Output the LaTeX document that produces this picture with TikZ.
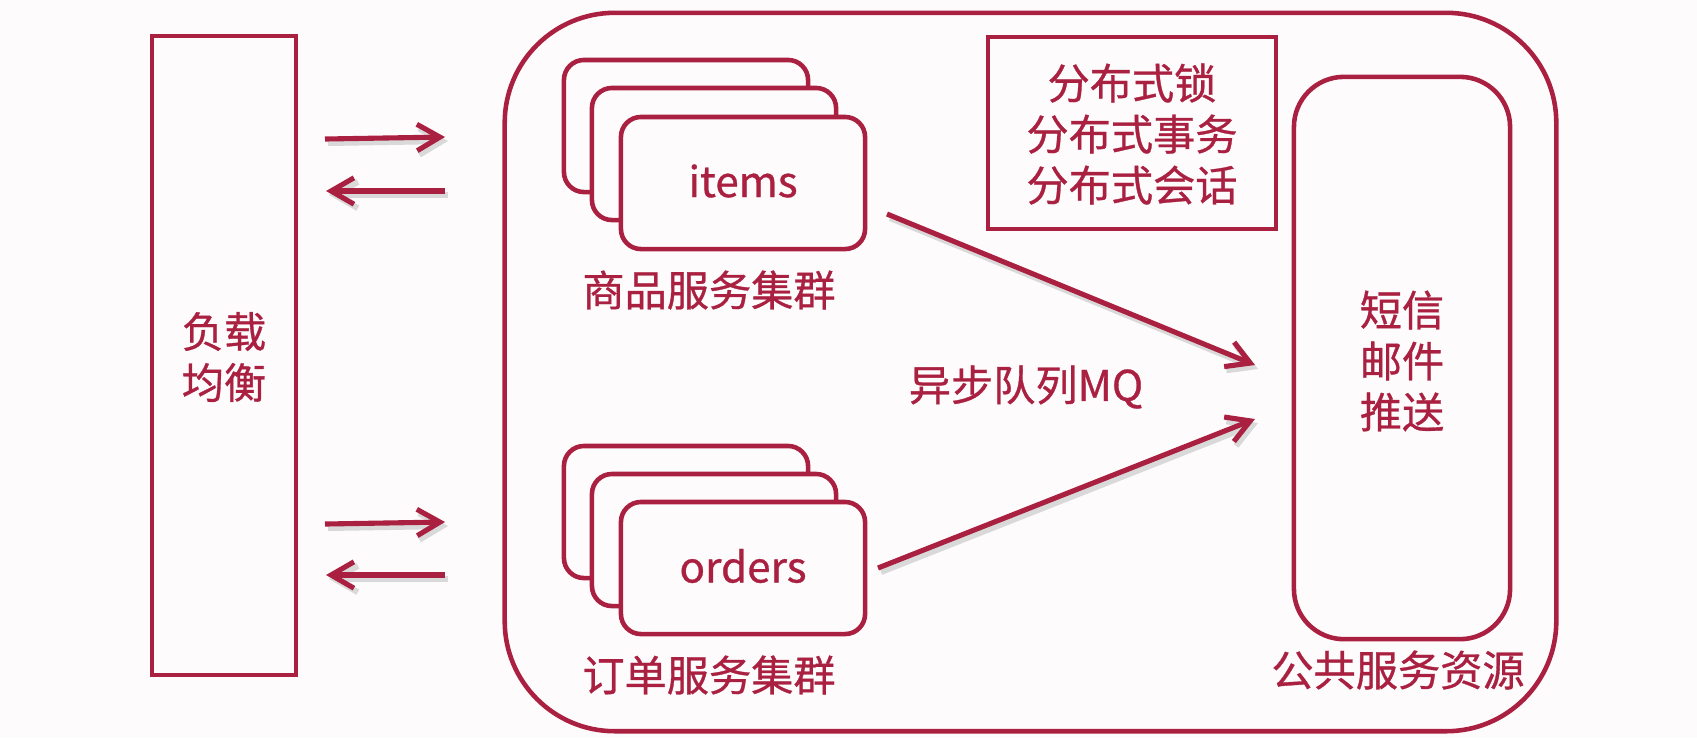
\documentclass[tikz,border=0pt]{standalone}
\usepackage{fontspec}
\setmainfont{Noto Sans CJK SC}[FakeBold=0.7]
\usetikzlibrary{arrows.meta}
\definecolor{cr}{RGB}{170,32,64}
\definecolor{bg}{RGB}{254,251,253}
\begin{document}
\begin{tikzpicture}[x=0.01cm,y=-0.01cm,
  box/.style={draw=cr, line width=1.3pt, inner sep=0pt},
  svc/.style={box, fill=bg, rounded corners=0.2cm, minimum width=2.44cm, minimum height=1.32cm},
  lbl/.style={text=cr, font=\fontsize{12}{14.5}\selectfont, inner sep=0pt, align=center},
  shadowed/.style={preaction={draw=black!15, line width=1.7pt, transform canvas={shift={(0.03cm,-0.04cm)}}}},
  arr/.style={draw=cr, line width=1.45pt, -{Straight Barb[length=6.5pt,width=7.5pt]}, shadowed}]
\fill[bg] (0,0) rectangle (1697,738);
\useasboundingbox (0,0) rectangle (1697,738);

% load balancer
\node[box, minimum width=1.44cm, minimum height=6.39cm] (lb) at (224,355.5) {};
\node[lbl] (lbt) at (224,357) {负载\\均衡};

% outer cluster
\node[box, minimum width=10.51cm, minimum height=7.18cm, rounded corners=1.1cm] (big) at (1030.5,372) {};

% items stack
\node[svc] (i3) at (686,126) {};
\node[svc] (i2) at (714,154) {};
\node[svc] (i1) at (743,183) {};
\node[lbl] (it) at (743,181) {items};
\node[lbl] (il) at (709,290) {商品服务集群};

% orders stack
\node[svc] (o3) at (686,512) {};
\node[svc] (o2) at (714,540) {};
\node[svc] (o1) at (743,568) {};
\node[lbl] (ot) at (743,566) {orders};
\node[lbl] (ol) at (709,675) {订单服务集群};

% distributed box
\node[box, minimum width=2.88cm, minimum height=1.92cm] (dist) at (1132,133) {};
\node[lbl] (distt) at (1132,134) {分布式锁\\分布式事务\\分布式会话};

% public services
\node[box, minimum width=2.16cm, minimum height=5.62cm, rounded corners=0.5cm] (pub) at (1402,358) {};
\node[lbl] (pubt) at (1402,361) {短信\\邮件\\推送};
\node[lbl] (publ) at (1398,670) {公共服务资源};

\node[lbl] (mq) at (1026,387) {异步队列MQ};

% arrows between load balancer and cluster
\coordinate (a1s) at (325,139); \coordinate (a1e) at (445,137);
\coordinate (a2s) at (445,191); \coordinate (a2e) at (326,191);
\coordinate (a3s) at (325,524); \coordinate (a3e) at (445,522);
\coordinate (a4s) at (445,575); \coordinate (a4e) at (326,575);
\draw[arr] (a1s) -- (a1e);
\draw[arr] (a2s) -- (a2e);
\draw[arr] (a3s) -- (a3e);
\draw[arr] (a4s) -- (a4e);

% MQ arrows
\coordinate (m1s) at (887,214); \coordinate (m1e) at (1255,365);
\coordinate (m2s) at (878,568); \coordinate (m2e) at (1255,419);
\draw[arr] (m1s) -- (m1e);
\draw[arr] (m2s) -- (m2e);
\end{tikzpicture}
\end{document}
